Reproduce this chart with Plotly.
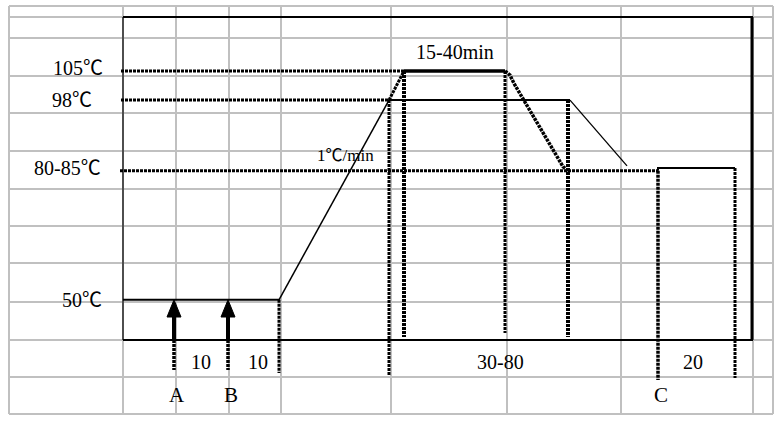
import plotly.graph_objects as go

# ---------------- data ----------------
# temperature levels of the curing profile
level_labels = ["105℃", "98℃", "80-85℃", "50℃"]
level_temps = [105, 98, 81, 50]

# stations along the (schematic) time axis
stage_names = ["A", "B", "ramp", "reach98", "reach105", "hold_end", "cool_end", "C", "end"]
stage_x = [174, 228, 279, 389, 404, 505, 568, 658, 735]

# cooling curve from 105℃ down to the 80-85℃ level
cool_x = [505, 510, 514, 563, 568]
cool_t = [105, 104, 102, 82, 81]

# slower cooling from 98℃
slow_x = [570, 627]
slow_t = [98, 82.2]

# final stage level (after C)
final_t = 81.7

# duration labels under the axis
dur_labels = ["10", "10", "30-80", "20"]
dur_x = [201, 258, 500, 693]
point_labels = ["A", "B", "C"]
point_x = [177, 231, 661]

# ---------------- canvas helpers ----------------
W, H = 780, 421
PL, PR, PT, PB = 9, 773, 6, 414          # plot area in pixels
K = 4.161                               # px per degree
T_TOP = 120.62


def temp_at(py):
    return T_TOP - (py - PT) / K


def fx(px):
    return (px - PL) / (PR - PL)


def fy(py):
    return (PB - py) / (PB - PT)


S = dict(zip(stage_names, stage_x))
DOT = "3px,1px"

fig = go.Figure()


def seg(x, y, width, dash="solid"):
    fig.add_trace(go.Scatter(x=x, y=y, mode="lines",
                             line=dict(color="black", width=width, dash=dash),
                             hoverinfo="skip", showlegend=False))


t105, t98, t81, t50 = level_temps

# 105 level
seg([121, S["reach105"]], [t105, t105], 3, DOT)
seg([S["reach105"], S["hold_end"]], [t105, t105], 3.5)
seg(cool_x, cool_t, 3.5, DOT)
# 98 level
seg([121, S["reach98"]], [t98, t98], 3, DOT)
seg([S["reach98"], slow_x[0]], [t98, t98], 2)
seg(slow_x, slow_t, 1.3)
# 80-85 level
seg([120, S["C"]], [t81, t81], 3, DOT)
seg([S["C"], S["C"], S["end"]], [t81, final_t, final_t], 2)
# 50 level and ramp
seg([123, S["ramp"]], [t50, t50], 2)
seg([S["ramp"], S["reach98"]], [t50, t98], 1.5)
seg([S["reach98"], S["reach105"]], [t98, t105], 3, DOT)

# vertical drop lines
drops = [("ramp", t50, 373, 3), ("reach98", t98, 375, 3), ("reach105", t105, 337, 4),
         ("hold_end", t105, 333, 3), ("cool_end", t98, 337, 4),
         ("C", t81, 380, 3.5), ("end", final_t, 378, 3)]
for name, top, bottom, w in drops:
    seg([S[name], S[name]], [top, temp_at(bottom)], w, DOT)

# arrows A and B
for name in ["A", "B"]:
    x0 = S[name]
    fig.add_trace(go.Scatter(x=[x0 - 7, x0 + 7, x0, x0 - 7],
                             y=[temp_at(317), temp_at(317), t50, temp_at(317)],
                             mode="lines", fill="toself", fillcolor="black",
                             line=dict(color="black", width=1),
                             hoverinfo="skip", showlegend=False))
    seg([x0, x0], [temp_at(317), temp_at(340)], 4)
    seg([x0, x0], [temp_at(340), temp_at(370)], 3.5, DOT)

# ---------------- grid & frame (shapes) ----------------
shapes = []
grid_cols = [9, 123, 176, 229, 281, 391, 507, 621, 753, 773]
grid_rows = [6, 17, 38, 76, 113, 151, 189, 226, 263, 302, 340, 377, 414]
for c in grid_cols:
    shapes.append(dict(type="line", xref="paper", yref="paper", x0=fx(c), x1=fx(c),
                       y0=fy(6), y1=fy(414), line=dict(color="#c0c0c0", width=2),
                       layer="below"))
for r in grid_rows:
    shapes.append(dict(type="line", xref="paper", yref="paper", x0=fx(9), x1=fx(773),
                       y0=fy(r), y1=fy(r), line=dict(color="#c0c0c0", width=2),
                       layer="below"))
frame = [((123, 17), (123, 340), 1.2), ((123, 17), (753, 17), 2.2),
         ((752, 17), (752, 340), 3), ((123, 340), (753, 340), 2.2)]
for (a, b), (c, d), w in frame:
    shapes.append(dict(type="line", xref="paper", yref="paper", x0=fx(a), x1=fx(c),
                       y0=fy(b), y1=fy(d), line=dict(color="black", width=w)))

# ---------------- text ----------------
FONT = "'Liberation Serif', 'Times New Roman', 'Noto Sans CJK SC', serif"
ann = []


def label(text, cx, cy, size):
    ann.append(dict(text=text, x=fx(cx), y=fy(cy), xref="paper", yref="paper",
                    xanchor="center", yanchor="middle", showarrow=False,
                    font=dict(family=FONT, size=size, color="black")))


label_pos = [(78, 68), (72, 100), (67, 168), (82, 300)]
for lab, (cx, cy) in zip(level_labels, label_pos):
    label(lab, cx, cy, 20)
label("15-40min", 455, 52, 20)
label("1℃/min", 345, 155, 17)
for lab, cx in zip(dur_labels, dur_x):
    label(lab, cx, 362, 20)
for lab, cx in zip(point_labels, point_x):
    label(lab, cx, 395, 21)

fig.update_layout(
    width=W, height=H,
    margin=dict(l=PL, r=W - PR, t=PT, b=H - PB, pad=0),
    paper_bgcolor="white", plot_bgcolor="white",
    xaxis=dict(range=[PL, PR], visible=False, fixedrange=True),
    yaxis=dict(range=[temp_at(PB), T_TOP], visible=False, fixedrange=True),
    shapes=shapes, annotations=ann, showlegend=False,
)

fig.write_html("out.html", config={"displayModeBar": False},
               post_script="document.body.style.margin='0';document.body.style.overflow='hidden';")
